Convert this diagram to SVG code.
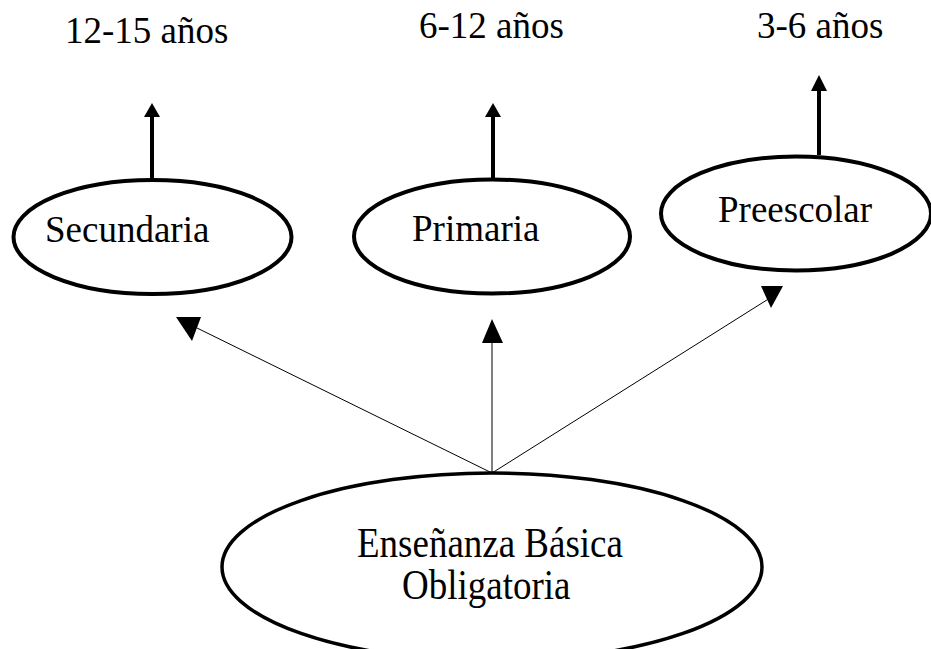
<svg xmlns="http://www.w3.org/2000/svg" width="931" height="649" viewBox="0 0 931 649">
  <style>
    .node { fill: #ffffff; stroke: #000000; stroke-width: 4; }
    .label { font-family: "Liberation Serif", "Times New Roman", serif; font-size: 37px; fill: #000000; }
    .thick { stroke: #000000; stroke-width: 4; fill: none; }
    .thin { stroke: #000000; stroke-width: 1; fill: none; }
    .head { fill: #000000; stroke: none; }
  </style>
  <rect width="931" height="649" fill="#ffffff"/>

  <!-- age ranges -->
  <g id="ages">
    <text class="label" x="65" y="43">12-15 años</text>
    <text class="label" x="419" y="38">6-12 años</text>
    <text class="label" x="757" y="38">3-6 años</text>
  </g>

  <g id="connectors">
    <!-- level to age range -->
    <line class="thick" x1="152" y1="180" x2="152" y2="114"/>
    <polygon class="head" points="152,103 160,117 144,117"/>
    <line class="thick" x1="493" y1="179" x2="493" y2="114"/>
    <polygon class="head" points="493,103 501,117 485,117"/>
    <line class="thick" x1="819" y1="155" x2="819" y2="88"/>
    <polygon class="head" points="819,75 827,91 811,91"/>

    <!-- base education to each level -->
    <line class="thin" x1="492" y1="473" x2="197" y2="328"/>
    <polygon class="head" points="176,317 201,317 192,341"/>
    <line class="thin" x1="492" y1="473" x2="492" y2="340"/>
    <polygon class="head" points="482,343 503,343 492,319"/>
    <line class="thin" x1="492" y1="473" x2="770" y2="298"/>
    <polygon class="head" points="761,286 783,286 771,308"/>
  </g>

  <g id="secundaria">
    <ellipse class="node" cx="152.5" cy="237" rx="139" ry="57"/>
    <text class="label" x="45" y="242">Secundaria</text>
  </g>

  <g id="primaria">
    <ellipse class="node" cx="492" cy="236.5" rx="138" ry="57"/>
    <text class="label" x="412" y="241">Primaria</text>
  </g>

  <g id="preescolar">
    <ellipse class="node" cx="796" cy="213.5" rx="135" ry="57"/>
    <text class="label" x="718" y="222">Preescolar</text>
  </g>

  <g id="ensenanza-basica">
    <ellipse class="node" cx="492" cy="567" rx="270" ry="94" style="stroke-width:3.5"/>
    <text class="label" transform="translate(357,557) scale(1,1.12)">Enseñanza Básica</text>
    <text class="label" transform="translate(402,599) scale(1,1.12)">Obligatoria</text>
  </g>
</svg>
